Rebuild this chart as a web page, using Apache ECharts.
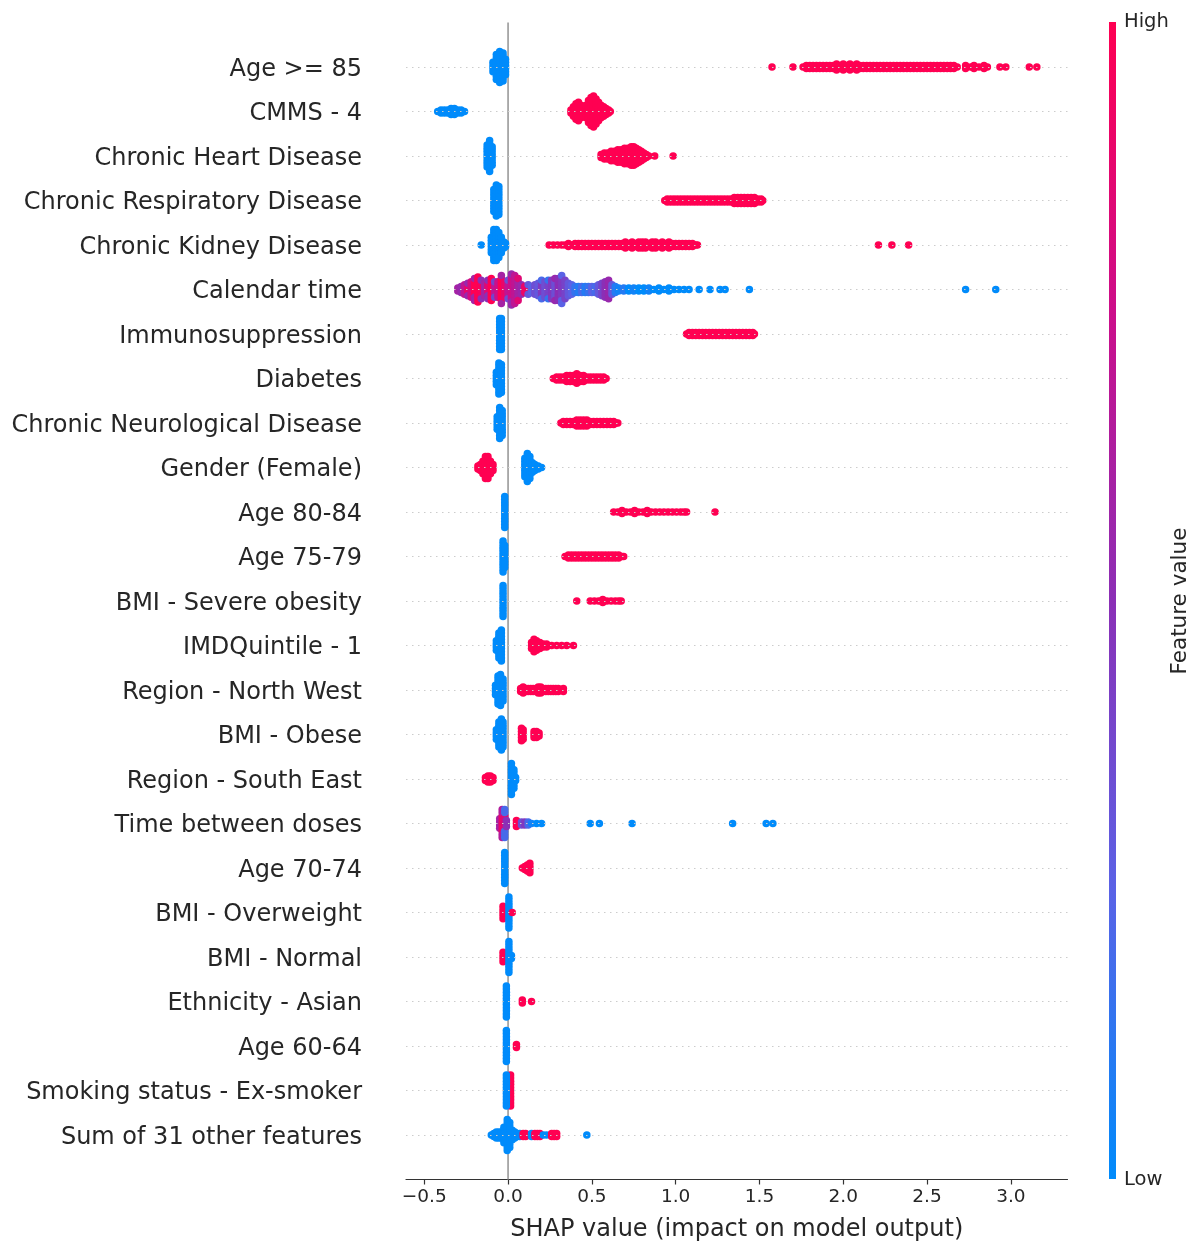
<!DOCTYPE html>
<html>
<head>
<meta charset="utf-8">
<script src="https://cdn.jsdelivr.net/npm/echarts@6/dist/echarts.min.js"></script>
<style>
  html, body { margin: 0; padding: 0; background: #ffffff; }
  #chart { width: 1192px; height: 1242px; }
</style>
</head>
<body>
<div id="chart"></div>
<script>
// Feature names, top row first
const featureNames = [
  'Age >= 85', 'CMMS - 4', 'Chronic Heart Disease', 'Chronic Respiratory Disease',
  'Chronic Kidney Disease', 'Calendar time', 'Immunosuppression', 'Diabetes',
  'Chronic Neurological Disease', 'Gender (Female)', 'Age 80-84', 'Age 75-79',
  'BMI - Severe obesity', 'IMDQuintile - 1', 'Region - North West', 'BMI - Obese',
  'Region - South East', 'Time between doses', 'Age 70-74', 'BMI - Overweight',
  'BMI - Normal', 'Ethnicity - Asian', 'Age 60-64', 'Smoking status - Ex-smoker',
  'Sum of 31 other features'
];

// Each entry: [SHAP value, number of samples at that value, feature value 0 (low) .. 1 (high)]
const ageGe85 = [
  [-0.09,4,0],[-0.07,9,0],[-0.05,11,0],[-0.03,10,0],[-0.015,6,0],
  [1.575,1,1],[1.70,1,1],
  [1.76,1,1],[1.78,2,1],[1.80,2,1],[1.82,2,1],[1.84,2,1],[1.86,2,1],[1.88,2,1],[1.90,2,1],
  [1.92,2,1],[1.94,2,1],[1.96,3,1],[1.98,2,1],[2.00,3,1],[2.02,2,1],[2.04,3,1],[2.06,2,1],
  [2.08,3,1],[2.10,2,1],[2.12,2,1],[2.14,2,1],[2.16,2,1],[2.18,2,1],[2.20,2,1],[2.22,2,1],
  [2.24,2,1],[2.26,2,1],[2.28,2,1],[2.30,2,1],[2.32,2,1],[2.34,2,1],[2.36,2,1],[2.38,2,1],
  [2.40,2,1],[2.42,2,1],[2.44,2,1],[2.46,2,1],[2.48,2,1],[2.50,2,1],[2.52,2,1],[2.54,2,1],
  [2.56,2,1],[2.58,2,1],[2.60,2,1],[2.62,2,1],[2.64,2,1],[2.66,2,1],[2.68,1,1],
  [2.73,2,1],[2.76,1,1],[2.78,2,1],[2.81,1,1],[2.84,2,1],[2.86,1,1],[2.935,1,1],[2.97,1,1],
  [3.11,1,1],[3.155,1,1]
];
const cmms4 = [
  [-0.42,1,0],[-0.40,2,0],[-0.38,2,0],[-0.36,2,0],[-0.34,3,0],[-0.32,3,0],[-0.30,2,0],[-0.28,2,0],[-0.26,1,0],
  [0.375,2,1],[0.39,4,1],[0.405,6,1],[0.42,7,1],[0.435,5,1],[0.45,4,1],[0.465,5,1],[0.48,8,1],
  [0.495,10,1],[0.51,11,1],[0.525,9,1],[0.54,7,1],[0.555,5,1],[0.57,4,1],[0.585,3,1],[0.60,2,1],[0.61,1,1]
];
const chronicHeart = [
  [-0.125,8,0],[-0.11,11,0],[-0.095,7,0],
  [0.555,2,1],[0.575,3,1],[0.595,3,1],[0.615,4,1],[0.635,4,1],[0.655,5,1],[0.675,5,1],[0.695,6,1],
  [0.715,6,1],[0.735,7,1],[0.75,7,1],[0.765,6,1],[0.78,5,1],[0.795,4,1],[0.81,3,1],[0.825,2,1],
  [0.84,1,1],[0.875,1,1],[0.985,1,1]
];
const chronicResp = [
  [-0.085,8,0],[-0.07,11,0],[-0.055,10,0],
  [0.935,1,1],[0.95,2,1],[0.97,2,1],[0.99,2,1],[1.01,2,1],[1.03,2,1],[1.05,2,1],[1.07,2,1],
  [1.09,2,1],[1.11,2,1],[1.13,2,1],[1.15,2,1],[1.17,2,1],[1.19,2,1],[1.21,2,1],[1.23,2,1],
  [1.25,2,1],[1.27,2,1],[1.29,2,1],[1.31,2,1],[1.33,2,1],[1.35,3,1],[1.37,3,1],[1.39,3,1],
  [1.41,3,1],[1.43,3,1],[1.45,3,1],[1.47,3,1],[1.49,2,1],[1.51,2,1],[1.52,1,1]
];
const chronicKidney = [
  [-0.16,1,0],[-0.10,6,0],[-0.085,11,0],[-0.07,11,0],[-0.055,9,0],[-0.04,6,0],[-0.025,3,0],[-0.015,2,0],
  [0.245,1,1],[0.27,1,1],[0.295,1,1],[0.32,1,1],[0.34,1,1],[0.36,2,1],[0.38,1,1],[0.40,2,1],
  [0.42,2,1],[0.44,2,1],[0.46,2,1],[0.48,2,1],[0.50,2,1],[0.52,2,1],[0.54,2,1],[0.56,2,1],
  [0.58,2,1],[0.60,2,1],[0.62,2,1],[0.64,2,1],[0.66,2,1],[0.68,2,1],[0.70,3,1],[0.72,2,1],
  [0.74,3,1],[0.76,2,1],[0.78,3,1],[0.80,3,1],[0.82,3,1],[0.84,2,1],[0.86,3,1],[0.88,3,1],
  [0.90,2,1],[0.92,3,1],[0.94,2,1],[0.96,3,1],[0.98,2,1],[1.00,2,1],[1.02,2,1],[1.04,2,1],
  [1.06,2,1],[1.08,2,1],[1.10,2,1],[1.12,1,1],[1.13,1,1],
  [2.21,1,1],[2.29,1,1],[2.39,1,1]
];
const calendarTime = [
  [-0.30,2,0.6],[-0.28,3,0.55],[-0.26,4,0.7],[-0.24,3,0.9],[-0.24,2,0.55],[-0.22,6,0.8],
  [-0.20,5,1.0],[-0.20,3,0.6],[-0.18,9,1.0],[-0.16,5,0.95],[-0.16,2,0.5],[-0.14,5,0.6],
  [-0.12,4,0.85],[-0.12,3,0.5],[-0.10,8,1.0],[-0.08,4,0.7],[-0.08,2,0.4],[-0.06,6,0.75],
  [-0.04,8,1.0],[-0.04,2,0.6],[-0.02,6,0.9],[0.00,5,0.7],[0.00,2,0.35],[0.02,8,0.75],
  [0.02,3,0.55],[0.04,10,0.7],[0.06,6,0.6],[0.06,2,0.85],[0.08,4,0.55],[0.10,3,0.9],
  [0.12,2,0.95],[0.12,2,0.3],[0.14,3,0.25],[0.16,4,0.35],[0.18,5,0.3],[0.20,5,0.45],
  [0.20,2,0.2],[0.22,6,0.35],[0.24,5,0.4],[0.24,2,0.15],[0.26,7,0.45],[0.28,6,0.35],
  [0.28,2,0.55],[0.30,8,0.5],[0.32,7,0.45],[0.32,3,0.25],[0.34,7,0.4],[0.36,5,0.3],
  [0.38,4,0.25],[0.40,3,0.15],[0.42,3,0.1],[0.44,3,0.2],[0.46,3,0.1],[0.48,3,0.15],
  [0.50,3,0.25],[0.52,3,0.2],[0.54,4,0.3],[0.56,5,0.4],[0.58,6,0.5],[0.60,7,0.55],
  [0.62,4,0.3],[0.64,3,0.1],[0.66,2,0.05],[0.69,2,0.1],[0.72,2,0.0],[0.75,2,0.05],
  [0.78,2,0.0],[0.81,2,0.0],[0.84,2,0.05],[0.87,1,0.0],[0.90,2,0.0],[0.93,1,0.0],
  [0.96,2,0.0],[0.99,1,0.0],[1.02,1,0.0],[1.05,1,0.0],[1.08,1,0.0],[1.14,1,0.0],
  [1.205,1,0.0],[1.265,1,0.0],[1.295,1,0.0],[1.44,1,0.0],[2.73,1,0.0],[2.91,1,0.0]
];
const immunosuppression = [
  [-0.05,11,0],[-0.04,11,0],
  [1.065,1,1],[1.08,2,1],[1.10,2,1],[1.12,2,1],[1.14,2,1],[1.16,2,1],[1.18,2,1],[1.20,2,1],
  [1.22,2,1],[1.24,2,1],[1.26,2,1],[1.28,2,1],[1.30,2,1],[1.32,2,1],[1.34,2,1],[1.36,2,1],
  [1.38,2,1],[1.40,2,1],[1.42,2,1],[1.44,2,1],[1.46,2,1],[1.47,1,1]
];
const diabetes = [
  [-0.07,5,0],[-0.055,11,0],[-0.04,10,0],
  [0.27,1,1],[0.29,2,1],[0.31,2,1],[0.33,2,1],[0.35,3,1],[0.37,3,1],[0.39,3,1],[0.41,4,1],
  [0.43,3,1],[0.45,3,1],[0.47,2,1],[0.49,2,1],[0.51,2,1],[0.53,2,1],[0.55,2,1],[0.57,2,1],[0.585,1,1]
];
const chronicNeuro = [
  [-0.065,5,0],[-0.05,11,0],[-0.035,9,0],
  [0.315,1,1],[0.33,2,1],[0.35,2,1],[0.37,2,1],[0.39,2,1],[0.41,3,1],[0.43,3,1],[0.45,3,1],
  [0.47,3,1],[0.49,2,1],[0.51,2,1],[0.53,2,1],[0.55,2,1],[0.57,2,1],[0.59,2,1],[0.61,2,1],
  [0.63,2,1],[0.645,1,1],[0.655,1,1]
];
const genderFemale = [
  [-0.18,2,1],[-0.165,3,1],[-0.15,5,1],[-0.135,8,1],[-0.12,8,1],[-0.105,5,1],[-0.09,3,1],
  [0.10,7,0],[0.115,10,0],[0.13,8,0],[0.145,4,0],[0.16,3,0],[0.18,2,0],[0.20,1,0]
];
const age8084 = [
  [-0.02,11,0],
  [0.63,1,1],[0.655,1,1],[0.68,2,1],[0.705,1,1],[0.73,1,1],[0.755,2,1],[0.78,1,1],[0.805,1,1],
  [0.83,2,1],[0.855,1,1],[0.88,1,1],[0.905,1,1],[0.93,1,1],[0.955,1,1],[0.98,1,1],[1.005,1,1],
  [1.03,1,1],[1.05,1,1],[1.065,1,1],[1.235,1,1]
];
const age7579 = [
  [-0.03,11,0],[-0.02,8,0],
  [0.34,1,1],[0.36,2,1],[0.38,2,1],[0.40,2,1],[0.42,2,1],[0.44,2,1],[0.46,2,1],[0.48,2,1],
  [0.50,2,1],[0.52,2,1],[0.54,2,1],[0.56,2,1],[0.58,2,1],[0.60,2,1],[0.62,2,1],[0.64,2,1],
  [0.66,2,1],[0.68,1,1],[0.69,1,1]
];
const bmiSevere = [
  [-0.03,11,0],
  [0.41,1,1],[0.49,1,1],[0.515,1,1],[0.54,1,1],[0.565,2,1],[0.59,1,1],[0.615,1,1],[0.64,1,1],[0.66,1,1],[0.675,1,1]
];
const imdQuintile1 = [
  [-0.07,4,0],[-0.055,9,0],[-0.04,11,0],
  [0.14,3,1],[0.155,5,1],[0.17,4,1],[0.19,3,1],[0.21,2,1],[0.23,2,1],[0.26,1,1],[0.29,1,1],
  [0.32,1,1],[0.35,1,1],[0.39,1,1]
];
const regionNorthWest = [
  [-0.075,4,0],[-0.06,10,0],[-0.045,11,0],[-0.03,8,0],
  [0.075,2,1],[0.09,3,1],[0.105,2,1],[0.12,2,1],[0.135,2,1],[0.15,2,1],[0.165,2,1],[0.18,3,1],
  [0.195,3,1],[0.21,2,1],[0.225,2,1],[0.24,2,1],[0.255,2,1],[0.27,2,1],[0.285,2,1],[0.30,2,1],
  [0.315,1,1],[0.33,2,1]
];
const bmiObese = [
  [-0.07,4,0],[-0.055,9,0],[-0.04,11,0],[-0.03,9,0],
  [0.08,5,1],[0.09,4,1],[0.155,3,1],[0.17,3,1],[0.185,2,1]
];
const regionSouthEast = [
  [-0.135,2,1],[-0.12,3,1],[-0.105,3,1],[-0.09,2,1],
  [0.02,11,0],[0.035,7,0],[0.045,2,0]
];
const timeBetweenDoses = [
  [-0.05,4,0.6],[-0.035,6,0.9],[-0.035,4,0.65],[-0.02,5,0.85],[-0.02,5,0.2],[-0.01,3,0.5],
  [0.05,3,1.0],[0.08,2,0.35],[0.10,2,0.45],[0.12,2,0.2],[0.14,1,0.05],[0.17,1,0.0],[0.20,1,0.0],
  [0.49,1,0],[0.545,1,0],[0.74,1,0],[1.34,1,0],[1.54,1,0],[1.58,1,0]
];
const age7074 = [
  [-0.02,11,0],
  [0.085,1,1],[0.10,2,1],[0.115,3,1],[0.13,4,1]
];
const bmiOverweight = [
  [-0.03,5,1],[0.005,11,0],[0.025,1,1]
];
const bmiNormal = [
  [-0.03,4,1],[0.005,11,0],[0.02,2,0]
];
const ethnicityAsian = [
  [-0.01,11,0],[0.085,2,1],[0.14,1,1]
];
const age6064 = [
  [-0.01,11,0],[0.05,2,1]
];
const smokingExSmoker = [
  [0.015,11,1],[-0.01,11,0]
];
const sumOtherFeatures = [
  [-0.10,1,0],[-0.085,2,0],[-0.07,3,0],[-0.055,3,0],[-0.04,3,0],[-0.025,6,0],[-0.005,11,0],
  [0.01,9,0],[0.025,4,0],[0.04,3,0],[0.055,2,0],[0.07,2,0],
  [0.09,2,1],[0.105,2,1],[0.125,1,1],[0.14,2,0],[0.16,2,1],[0.175,2,1],[0.19,2,1],[0.21,1,0],
  [0.23,1,0],[0.26,2,1],[0.275,2,1],[0.29,2,1],[0.47,1,0]
];

const featureRows = [
  ageGe85, cmms4, chronicHeart, chronicResp, chronicKidney, calendarTime, immunosuppression,
  diabetes, chronicNeuro, genderFemale, age8084, age7579, bmiSevere, imdQuintile1,
  regionNorthWest, bmiObese, regionSouthEast, timeBetweenDoses, age7074, bmiOverweight,
  bmiNormal, ethnicityAsian, age6064, smokingExSmoker, sumOtherFeatures
];

// x-axis tick positions
const xTicks = [-0.5, 0.0, 0.5, 1.0, 1.5, 2.0, 2.5, 3.0];

// Low -> high feature value colour ramp (blue -> purple -> red)
const featureColors = ['#008bfb', '#5a62e6', '#8b2fb6', '#cc0e8a', '#ff0052'];

// Beeswarm: samples sharing a SHAP value are stacked vertically around the row line
const STACK_STEP = 0.07; // in row units
function beeswarm(rows) {
  const pts = [];
  const nRows = rows.length;
  rows.forEach((clusters, i) => {
    const rowY = nRows - 1 - i;
    const cols = new Map();
    clusters.forEach(([x, n, fv]) => {
      const key = x.toFixed(4);
      if (!cols.has(key)) cols.set(key, []);
      for (let k = 0; k < n; k++) cols.get(key).push([x, fv]);
    });
    cols.forEach(col => {
      const n = col.length;
      const slots = [];
      for (let j = 0; j < n; j++) slots.push((j - (n - 1) / 2) * STACK_STEP);
      slots.sort((a, b) => Math.abs(a) - Math.abs(b) || b - a);
      col.forEach(([x, fv], k) => pts.push([x, rowY + slots[k], fv]));
    });
  });
  return pts;
}

const nRows = featureNames.length;
const points = beeswarm(featureRows);
const rowLines = [];
for (let r = 0; r < nRows; r++) rowLines.push({ yAxis: r });

const FONT = 'DejaVu Sans';
const chart = echarts.init(document.getElementById('chart'), null, { renderer: 'canvas' });

const gridLeft = 406, gridRight = 124.5, gridTop = 22.5, gridBottom = 62.5;
const barX = 1109, barTop = 22, barH = 1157, barW = 7;

const gradStops = featureColors.map((c, i) => ({ offset: 1 - i / (featureColors.length - 1), color: c })).reverse();

chart.setOption({
  animation: false,
  backgroundColor: '#ffffff',
  grid: { left: gridLeft, right: gridRight, top: gridTop, bottom: gridBottom, containLabel: false, outerBoundsMode: 'none' },
  xAxis: {
    type: 'value',
    min: -0.609,
    max: 3.338,
    splitLine: { show: false },
    axisLine: { show: true, onZero: false, lineStyle: { color: '#333333', width: 1.2 } },
    axisTick: { show: true, length: 5, customValues: xTicks, lineStyle: { color: '#333333', width: 1.2 } },
    axisLabel: {
      customValues: xTicks,
      fontFamily: FONT, fontSize: 18.5, color: '#262626', margin: 8,
      formatter: v => v.toFixed(1).replace('-', '\u2212')
    },
    name: 'SHAP value (impact on model output)',
    nameLocation: 'middle',
    nameGap: 38,
    nameTextStyle: { fontFamily: FONT, fontSize: 24, color: '#262626' }
  },
  yAxis: {
    type: 'value',
    min: -1,
    max: nRows,
    interval: 1,
    splitLine: { show: false },
    axisLine: { show: false },
    axisTick: { show: false },
    axisLabel: {
      margin: 44,
      formatter: v => (v >= 0 && v < nRows) ? '{n|' + featureNames[nRows - 1 - v] + '}' : '',
      rich: {
        n: { fontFamily: FONT, fontSize: 24, color: '#262626', padding: [5, 0, 0, 0] }
      }
    }
  },
  visualMap: {
    type: 'continuous',
    show: false,
    min: 0,
    max: 1,
    dimension: 2,
    seriesIndex: 1,
    inRange: { color: featureColors }
  },
  series: [
    {
      type: 'line',
      silent: true,
      symbol: 'none',
      z: 1,
      data: [[0, -1], [0, nRows]],
      lineStyle: { color: '#999999', width: 1.6 },
      markLine: {
        silent: true,
        symbol: 'none',
        label: { show: false },
        lineStyle: { color: '#cccccc', width: 1, type: [1.5, 4.5] },
        data: rowLines
      }
    },
    {
      type: 'scatter',
      z: 3,
      symbol: 'circle',
      symbolSize: 7.5,
      itemStyle: { opacity: 1 },
      data: points
    }
  ],
  graphic: [
    {
      type: 'rect',
      shape: { x: barX, y: barTop, width: barW, height: barH },
      style: { fill: new echarts.graphic.LinearGradient(0, 0, 0, 1, gradStops) }
    },
    {
      type: 'text', x: barX + 15, y: barTop,
      style: { text: 'High', font: '19.5px "DejaVu Sans"', fill: '#262626', verticalAlign: 'middle' }
    },
    {
      type: 'text', x: barX + 15, y: barTop + barH + 1,
      style: { text: 'Low', font: '19.5px "DejaVu Sans"', fill: '#262626', verticalAlign: 'middle' }
    },
    {
      type: 'text', x: 1180, y: 601, rotation: Math.PI / 2,
      style: { text: 'Feature value', font: '21.5px "DejaVu Sans"', fill: '#262626', align: 'center', verticalAlign: 'middle' }
    }
  ]
});
</script>
</body>
</html>
